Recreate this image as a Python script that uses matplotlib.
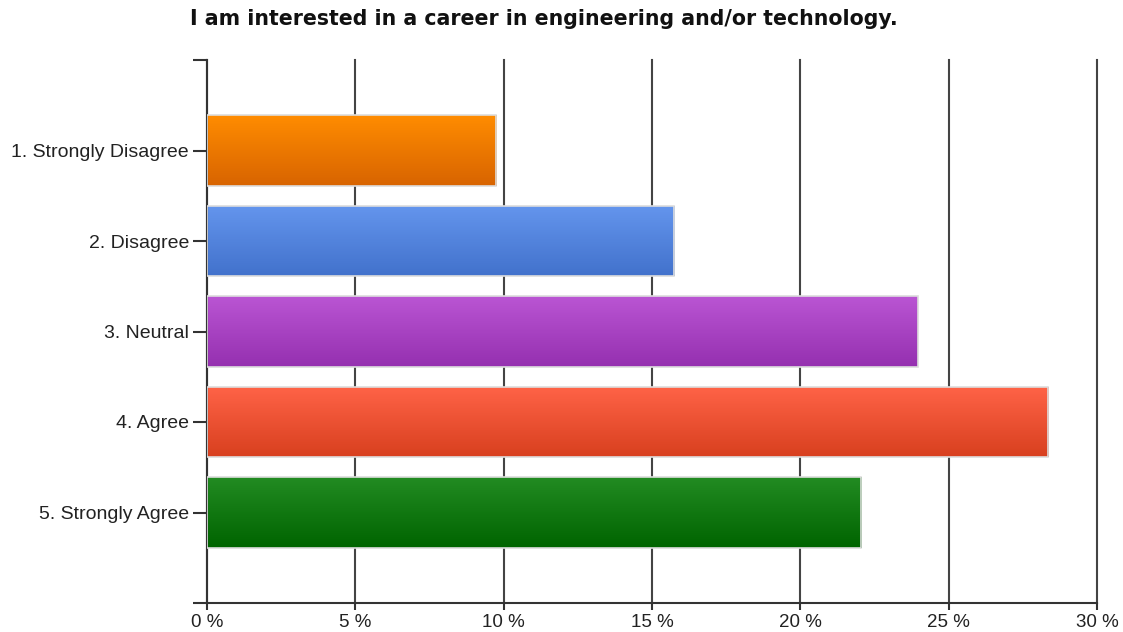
import numpy as np
import matplotlib.pyplot as plt
from matplotlib.colors import LinearSegmentedColormap

# -Daten---------------------------------------------------------------------------------------------------------------#

categories = ['1. Strongly Disagree', '2. Disagree', '3. Neutral', '4. Agree', '5. Strongly Agree']
percent = [9.75, 15.75, 23.95, 28.35, 22.05]
top_colors = ['#ff8c00', '#6495ed', '#ba55d3', '#ff6347', '#228b22']
bottom_colors = ['#d86400', '#4272cc', '#9530b0', '#d8401f', '#006400']
xticks = [0, 5, 10, 15, 20, 25, 30]
title = 'I am interested in a career in engineering and/or technology.'

# -Diagramm------------------------------------------------------------------------------------------------------------#

plt.rcParams['font.family'] = ['Liberation Sans', 'DejaVu Sans']

fig = plt.figure(figsize=(11.23, 6.32), dpi=100)
ax = fig.add_axes([207/1123, 1 - 603/632, 890/1123, 543/632])

pos = np.arange(1, len(categories) + 1)
bars = ax.barh(pos, percent, height=0.78, color='none', edgecolor='#dddddd', lw=1.2, zorder=3)

# Farbverlauf von oben nach unten in jedem Balken
grad = np.linspace(0, 1, 100).reshape(-1, 1)
for bar, c1, c2 in zip(bars, top_colors, bottom_colors):
    cmap = LinearSegmentedColormap.from_list('g', [c1, c2])
    x0, y0 = bar.get_x(), bar.get_y()
    w, h = bar.get_width(), bar.get_height()
    im = ax.imshow(grad, cmap=cmap, aspect='auto', extent=(x0, x0 + w, y0 + h, y0),
                   origin='upper', zorder=2)
    im.set_clip_path(bar)

ax.set_xlim(0, 30)
ax.set_ylim(6, 0)

ax.set_xticks(xticks)
ax.set_xticklabels(['%d %%' % v for v in xticks])
ax.set_yticks(range(0, 7))
ax.set_yticklabels([''] + categories + [''])

ax.grid(axis='x', color='#444444', lw=1.5, zorder=1)
for gl in ax.get_xgridlines():
    gl.set_clip_on(False)
ax.set_axisbelow(True)

for s in ['top', 'right']:
    ax.spines[s].set_visible(False)
ax.spines['left'].set_color('#333333')
ax.spines['bottom'].set_color('#333333')
ax.spines['left'].set_linewidth(1.5)
ax.spines['bottom'].set_linewidth(1.5)

ax.tick_params(axis='y', length=10, width=1.5, color='#333333', labelsize=14, labelcolor='#222222', pad=3)
ax.tick_params(axis='x', length=5, width=1.5, color='#333333', labelsize=13.5, labelcolor='#222222', pad=3)

fig.text(544/1123, 1 - 19/632, title, ha='center', va='center', fontsize=14.8, fontweight='bold',
         color='#111111', family='DejaVu Sans')

plt.savefig('out.png', dpi=100)
